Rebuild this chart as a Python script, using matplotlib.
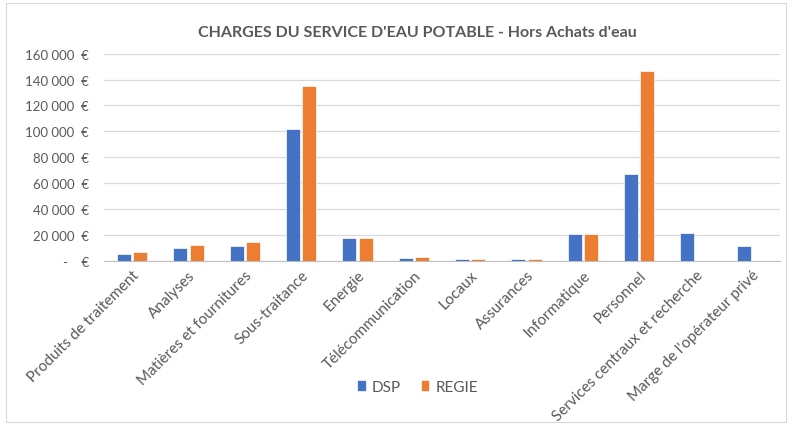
import matplotlib
matplotlib.use('Agg')
import numpy as np
import matplotlib.pyplot as plt
from matplotlib.ticker import FuncFormatter

categories = ['Produits de traitement', 'Analyses', 'Matières et fournitures', 'Sous-traitance',
              'Energie', 'Télécommunication', 'Locaux', 'Assurances', 'Informatique',
              'Personnel', 'Services centraux et recherche', "Marge de l'opérateur privé"]
dsp = [5200, 9800, 11100, 101800, 17500, 2100, 1100, 1500, 20600, 67000, 21600, 11100]
regie = [6700, 12100, 14700, 134800, 17500, 3100, 1000, 1500, 20600, 146300, 0, 0]

plt.rcParams['font.family'] = ['Lato', 'DejaVu Sans']

fig = plt.figure(figsize=(8, 4.27), dpi=100)
ax = fig.add_axes([0.13, 0.387, 0.845, 0.485])

x = np.arange(len(categories))
w = 0.25
ax.bar(x - 0.145, dsp, w, color='#4472C4', edgecolor='white', linewidth=0.5, label='DSP', zorder=3)
ax.bar(x + 0.145, regie, w, color='#ED7D31', edgecolor='white', linewidth=0.5, label='REGIE', zorder=3)

ax.set_xlim(-0.5, len(categories) - 0.5)
ax.set_ylim(0, 160000)
ax.set_yticks(np.arange(0, 160001, 20000))


def euro(v, pos):
    if v == 0:
        return '-    €'
    return '{:,.0f}'.format(v).replace(',', ' ') + '  €'


ax.yaxis.set_major_formatter(FuncFormatter(euro))
ax.grid(axis='y', color='#D9D9D9', linewidth=0.9, zorder=0)
for s in ['top', 'right', 'left']:
    ax.spines[s].set_visible(False)
ax.spines['bottom'].set_color('#BFBFBF')
ax.tick_params(axis='both', length=0, colors='#595959')
ax.tick_params(axis='y', pad=11, labelsize=9.5)
ax.tick_params(axis='x', pad=5, labelsize=11)
ax.set_xticks(x)
ax.set_xticklabels(categories, rotation=45, ha='right', rotation_mode='anchor')

fig.text(0.522, 0.922, "CHARGES DU SERVICE D'EAU POTABLE - Hors Achats d'eau",
         ha='center', va='center', fontsize=11.5, fontweight='bold', color='#595959')

fig.legend(loc='center', bbox_to_anchor=(0.522, 0.091), ncol=2, frameon=False,
           fontsize=11, handlelength=0.55, handleheight=0.7, columnspacing=1.3,
           handletextpad=0.4, labelcolor='#595959')

fig.patches.append(plt.Rectangle((0.008, 0.01), 0.975, 0.98, transform=fig.transFigure,
                                 fill=False, edgecolor='#D9D9D9', linewidth=0.8))

fig.savefig('out.png', dpi=100)
